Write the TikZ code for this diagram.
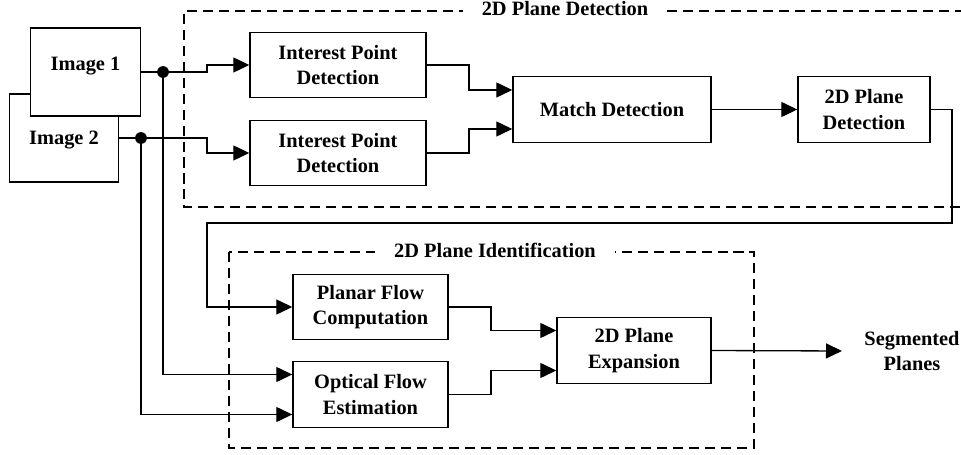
\documentclass[tikz,border=0pt]{standalone}
\usepackage{fontspec}
\setmainfont{Liberation Serif}
\usetikzlibrary{arrows.meta,calc}

\tikzset{
  block/.style={draw, line width=0.8pt, fill=white, align=center,
    minimum width=#1, minimum height=1.31cm, inner sep=0pt},
  imgbox/.style={draw, line width=0.6pt, fill=white,
    minimum width=2.19cm, minimum height=1.76cm, inner sep=0pt},
  junction/.style={circle, fill=black, inner sep=0pt, minimum size=0.235cm},
  flow/.style={line width=0.75pt, -{Triangle[length=0.32cm,width=0.3cm]}},
  link/.style={line width=0.75pt},
  group/.style={line width=0.6pt, dash pattern=on 5.7pt off 3.4pt},
  grouptitle/.style={fill=white, inner xsep=0.38cm, inner ysep=2pt},
}

\begin{document}
\begin{tikzpicture}[font=\fontsize{11.6}{14.6}\selectfont\bfseries]

\useasboundingbox (0,0) rectangle (19.22,-9.1);

% dashed groups
\draw [group] (19.3,-0.22) -- (3.68,-0.22) -- (3.68,-4.14) -- (19.3,-4.14);
\draw [group] (4.58,-5.04) rectangle (15.08,-8.96);
\node [grouptitle] (title1) at (11.30,-0.18) {2D Plane Detection};
\node [grouptitle] (title2) at (9.90,-5.0) {2D Plane Identification};

% input images
\node [imgbox] (img2) at (1.28,-2.76) {};
\node [imgbox] (img1) at (1.71,-1.44) {};
\node (img1txt) at (1.71,-1.32) {Image 1};
\node (img2txt) at (1.28,-2.80) {Image 2};

% blocks
\node [block=3.52cm] (ipd1) at (6.76,-1.30) {Interest Point\\Detection};
\node [block=3.52cm] (ipd2) at (6.76,-3.06) {Interest Point\\Detection};
\node [block=3.96cm] (match) at (12.24,-2.19) {Match Detection};
\node [block=2.64cm] (pd2d) at (17.28,-2.19) {2D Plane\\Detection};
\node [block=3.10cm] (planar) at (7.41,-6.14) {Planar Flow\\Computation};
\node [block=3.10cm] (optical) at (7.41,-7.89) {Optical Flow\\Estimation};
\node [block=3.08cm] (expansion) at (12.68,-7.01) {2D Plane\\Expansion};
\node [align=center] (segmented) at (18.24,-7.02) {Segmented\\Planes};

% junctions and bends
\node [junction] (dot1) at (3.26,-1.44) {};
\node [junction] (dot2) at (2.82,-2.76) {};
\coordinate (splitA) at (4.14,0);
\coordinate (splitB) at (9.38,0);
\coordinate (splitC) at (9.82,0);
\coordinate (back) at (19.04,-4.46);
\coordinate (out) at (16.84,-7.02);

% connectors
\draw [link] (img1.east) -- (dot1.center);
\draw [link] (img2.east) -- (dot2.center);
\draw [flow] (dot1.center) -- (dot1 -| splitA) |- (ipd1.west);
\draw [flow] (dot2.center) -- (dot2 -| splitA) |- (ipd2.west);
\draw [flow] (dot1.center) |- ($(optical.west)+(0,0.4)$);
\draw [flow] (dot2.center) |- ($(optical.west)+(0,-0.4)$);
\draw [flow] (ipd1.east) -- (ipd1.east -| splitB) |- ($(match.west)+(0,0.39)$);
\draw [flow] (ipd2.east) -- (ipd2.east -| splitB) |- ($(match.west)+(0,-0.39)$);
\draw [flow] (match) -- (pd2d);
\draw [flow] (pd2d.east) -| (back) -- (back -| splitA) |- (planar.west);
\draw [flow] (planar.east) -- (planar.east -| splitC) |- ($(expansion.west)+(0,0.4)$);
\draw [flow] (optical.east) -- (optical.east -| splitC) |- ($(expansion.west)+(0,-0.4)$);
\draw [flow] (expansion.east) -- (out);

\end{tikzpicture}
\end{document}
